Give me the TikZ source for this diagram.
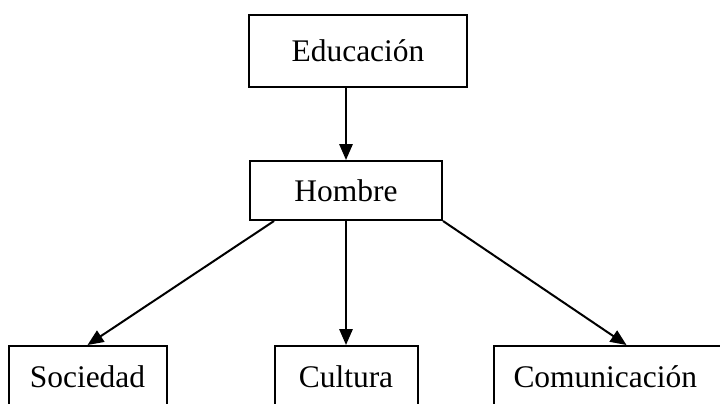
\documentclass[tikz,border=0pt]{standalone}
\usepackage{fontspec}
\setmainfont{Liberation Serif}
\usepackage{tikz}
\usetikzlibrary{positioning,arrows.meta}
\tikzset{
  basic/.style  = {draw, line width=1.5pt, rectangle, align=center,
                   font=\fontsize{23.6}{27}\selectfont},
  root/.style   = {basic, minimum width=163.5pt, minimum height=54pt},
  level 2/.style = {basic, minimum width=144pt, minimum height=44.25pt},
  level 3/.style = {basic, minimum height=46.5pt}
}

\begin{document}
\begin{tikzpicture}[x=0.75pt, y=-0.75pt,
        >={Triangle[length=12pt,width=10pt]}]
        \useasboundingbox (0,0) rectangle (720,403);
        % root and the middle node
        \node[root] (edu) at (358,51) {Educación};
        \node[level 2, below=54pt of edu, xshift=-9pt] (hom) {Hombre};
        % the third level, relatively positioned nodes
        \begin{scope}[every node/.style={level 3}]
          \node [below=93pt of hom, minimum width=107.25pt] (cul) {Cultura};
          \node [left=79.5pt of cul, minimum width=118.5pt] (soc) {Sociedad};
          \node [right=55.5pt of cul, text width=169.5pt, inner xsep=15pt,
            align=left] (com) {Comunicación};
        \end{scope}
        % arrows between the levels
        \draw[->, line width=1.5pt] (edu.south -| hom.north) -- (hom.north);
        \draw[->, line width=1.5pt] ([xshift=18.75pt]hom.south west) -- (soc.north);
        \draw[->, line width=1.5pt] (hom.south) -- (hom.south |- cul.north);
        \draw[->, line width=1.5pt] (hom.south east) -- (com.north);
      \end{tikzpicture}
\end{document}
